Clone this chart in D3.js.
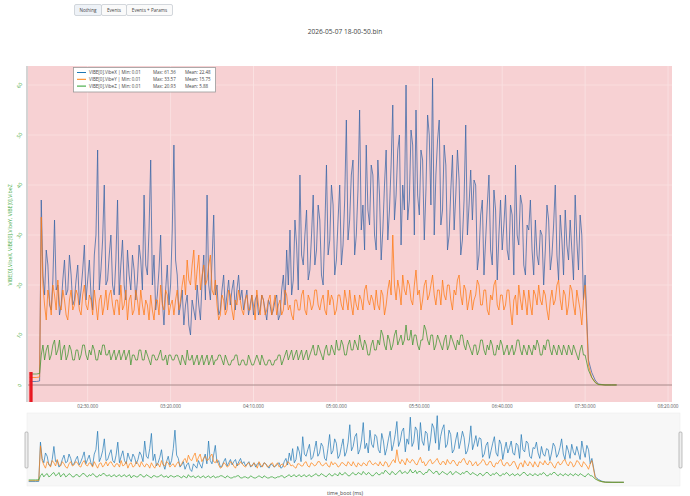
<!DOCTYPE html>
<html><head><meta charset="utf-8">
<script src="https://cdn.jsdelivr.net/npm/d3@7"></script>
<style>body{margin:0;background:#fff;} svg{display:block;font-family:"Open Sans",sans-serif;}</style>
</head><body><svg id="c" width="690" height="496"></svg>
<script>
const title = "2026-05-07 18-00-50.bin";
const buttons = ["Nothing", "Events", "Events + Params"];
const seriesNames = ["VIBE[0].VibeX", "VIBE[0].VibeY", "VIBE[0].VibeZ"];
const legendMin = ["0.01", "0.01", "0.01"];
const legendMax = ["61.36", "33.57", "20.93"];
const legendMean = ["22.48", "15.75", "5.88"];
const xTickValues = [150, 200, 250, 300, 350, 400, 450, 500];
const xTickLabels = ["02:30.000", "03:20.000", "04:10.000", "05:00.000", "05:50.000", "06:40.000", "07:30.000", "08:20.000"];
const yTickValues = [0, 10, 20, 30, 40, 50, 60];
const yTickLabels = ["0", "10", "20", "30", "40", "50", "60"];
const eventTimes = [115.3, 116.3];

// time_boot in seconds (1 s samples while flying)
const timeBoot = [115, 117, 119, 121, ...d3.range(122, 451, 1), 452, 454, 456, 458, 462, 466, 469];

const vibeX = [0.7, 0.7, 0.7, 0.8,
  37,22, 18,27, 24,16, 15,21, 33,19, 20,14, 16,21, 25,18, 19,26, 22,16,
  17,21, 24,16, 19,23, 28,17, 21,25, 18,15, 26,30, 47,19, 23,29, 40,20,
  21,26, 30,20, 18,25, 37,18, 24,29, 20,17, 27,22, 19,26, 23,17, 21,28,
  25,19, 38,24, 22,31, 45,20, 26,15, 18,23, 30,17, 12,19, 24,16, 20,31,
  48,25, 22,14, 16,19, 12,16, 18,12, 10,17, 15,13, 20,16, 13,21, 26,17,
  38,20, 17,25, 34,18, 20,14, 15,19, 22,15, 18,21, 16,19, 21,15, 19,22,
  17,19, 15,17, 19,14, 16,18, 14,17, 18,14, 15,18, 17,15, 13,17, 16,14,
  15,17, 18,13, 14,19, 22,16, 27,20, 31,18, 21,33, 28,19, 42,26, 24,30,
  35,21, 23,30, 38,24, 27,36, 33,22, 20,31, 44,26, 29,40, 36,22, 25,33,
  40,24, 28,37, 53,29, 33,42, 45,26, 30,39, 55,31, 36,27, 48,35, 32,44,
  42,30, 27,45, 38,25, 31,40, 47,29, 35,44, 56,33, 38,47, 50,28, 40,35,
  60,33, 37,51, 48,30, 55,38, 34,47, 45,29, 39,54, 50,36, 61.36,30, 42,49,
  53,32, 35,48, 44,27, 30,39, 46,31, 38,47, 41,26, 29,37, 52,30, 36,43,
  33,41, 40,23, 26,34, 37,22, 29,36, 42,27, 24,39, 35,21, 30,37, 27,32,
  38,27, 25,36, 34,22, 44,30, 28,38, 36,24, 22,32, 31,37, 27,22, 33,26,
  24,31, 30,20, 27,36, 33,23, 26,32, 40,26, 21,34, 29,22, 35,28, 25,33,
  27,21, 38,29, 23,34, 30,17, 22,
  5, 2.5, 1, 0.2, 0.01, 0.01, 0.01];

const vibeY = [1.5, 1.5, 1.5, 1.6,
  33.57,20, 16,13, 19,17, 14,20, 18,15, 21,16, 15,19, 17,14, 13,17, 19,15,
  16,19, 18,15, 14,18, 20,16, 15,18, 17,14, 19,16, 13,17, 18,14, 16,19,
  15,18, 19,16, 14,17, 17,14, 20,15, 16,19, 13,17, 18,14, 15,19, 17,14,
  19,16, 14,17, 16,13, 18,15, 13,17, 17,14, 20,16, 15,19, 18,14, 16,17,
  14,17, 19,15, 17,20, 22,18, 25,21, 20,24, 27,19, 23,26, 19,22, 24,20,
  21,24, 26,19, 18,21, 16,13, 14,18, 17,14, 15,19, 18,15, 13,17, 16,19,
  17,15, 14,17, 18,15, 15,18, 16,13, 19,16, 14,18, 17,14, 15,17, 18,14,
  16,18, 14,16, 17,14, 15,19, 18,15, 16,14, 13,17, 17,15, 15,18, 19,15,
  14,18, 17,15, 16,19, 19,16, 15,17, 18,15, 14,19, 16,18, 17,14, 15,18,
  18,16, 15,19, 17,15, 19,16, 14,18, 16,15, 18,17, 15,19, 20,17, 16,18,
  17,15, 19,16, 15,19, 18,14, 16,19, 21,18, 30,20, 17,21, 19,16, 22,19,
  18,21, 20,17, 16,20, 23,18, 19,15, 17,20, 21,17, 18,20, 22,18, 16,19,
  19,16, 21,18, 17,20, 20,17, 15,19, 18,21, 22,18, 16,20, 19,15, 17,19,
  15,17, 18,21, 20,16, 16,19, 19,15, 14,18, 17,20, 21,16, 15,18, 18,15,
  16,19, 19,15, 12,17, 18,14, 20,17, 15,19, 17,14, 19,16, 14,19, 18,16,
  20,17, 16,19, 18,15, 13,17, 19,16, 17,20, 21,17, 15,19, 18,14, 16,20,
  19,16, 14,19, 17,15, 12,17, 20,
  4, 1.5, 0.6, 0.1, 0.01, 0.01, 0.01];

const vibeZ = [2.2, 2.2, 2.2, 2.3,
  6,8, 5,7, 8,5, 6,8, 9,6, 7,9, 5,7, 8,5, 6,8, 7,5,
  5,7, 7,5, 6,8, 8,6, 5,7, 6,8, 7,5, 5,7, 6,8, 8,6,
  6,7, 5,6, 7,5, 6,7, 5,6, 7,5, 6,7, 4,6, 6,5, 5,7,
  7,5, 5,7, 6,5, 4,6, 6,5, 5,6, 7,5, 5,6, 4,6, 6,5,
  5,6, 6,5, 4,6, 5,4, 7,5, 5,6, 4,5, 6,4, 5,6, 4,5,
  6,4, 5,6, 4,5, 5,6, 6,5, 4,6, 5,4, 4,5, 5,6, 6,4,
  4,5, 5,4, 4,6, 5,4, 4,5, 6,5, 4,6, 5,4, 4,5, 5,4,
  4,5, 5,6, 6,4, 5,6, 7,5, 6,7, 5,6, 7,5, 6,7, 5,6,
  7,5, 6,7, 8,6, 6,8, 7,6, 5,7, 8,6, 6,8, 7,6, 9,7,
  7,9, 8,6, 6,8, 9,7, 7,9, 8,7, 10,8, 7,9, 8,6, 6,8,
  9,7, 7,9, 8,11, 10,8, 7,10, 9,7, 8,10, 11,8, 9,10, 8,9,
  12,9, 9,11, 8,10, 10,8, 7,9, 9,12, 11,9, 8,10, 10,7, 8,10,
  9,8, 7,9, 10,7, 8,10, 9,8, 7,9, 8,10, 10,8, 7,9, 8,7,
  6,8, 8,6, 7,9, 9,7, 6,8, 7,9, 8,6, 6,8, 7,9, 8,6,
  7,8, 6,7, 8,6, 7,9, 9,7, 6,8, 7,6, 8,7, 6,8, 7,9,
  8,6, 6,8, 7,9, 9,7, 6,8, 7,6, 8,7, 6,8, 7,6, 8,7,
  6,8, 7,6, 5,7, 8,6, 6,
  3, 1.5, 0.5, 0.1, 0.01, 0.01, 0.01];

const seriesValues = [vibeX, vibeY, vibeZ];
const mainColors = ["#3a66a6", "#ff7a12", "#3f9630"];
const sliderColors = ["#1f77b4", "#ff7f0e", "#2ca02c"];

const svg = d3.select("#c");
const M = {l: 28, r: 672, t: 66, b: 402};
const S = {l: 27, r: 680, t: 413, b: 486};
const xDomain = [114, 502.4], yDomain = [-3.4, 63.8];

const x = d3.scaleLinear().domain(xDomain).range([M.l, M.r]);
const y = d3.scaleLinear().domain(yDomain).range([M.b, M.t]);
const xs = d3.scaleLinear().domain(xDomain).range([S.l, S.r]);
const ys = d3.scaleLinear().domain(yDomain).range([S.b, S.t]);

// buttons
let bx = 74;
const bw = [27, 25, 46];
buttons.forEach((b, i) => {
  const g = svg.append("g");
  g.append("rect").attr("x", bx + 0.5).attr("y", 4.5).attr("width", bw[i]).attr("height", 11)
    .attr("rx", 1.5).attr("fill", i === 0 ? "#eef2f7" : "#fafafa").attr("stroke", "#c8cdd3").attr("stroke-width", 0.8);
  g.append("text").attr("x", bx + 0.5 + bw[i] / 2).attr("y", 11.8).attr("text-anchor", "middle")
    .attr("font-size", 4.6).attr("fill", "#444").text(b);
  bx += bw[i];
});

// title
svg.append("text").attr("x", 345).attr("y", 34).attr("text-anchor", "middle")
  .attr("font-size", 6.6).attr("fill", "#444").text(title);

// plot background
svg.append("rect").attr("x", M.l).attr("y", M.t).attr("width", M.r - M.l).attr("height", M.b - M.t).attr("fill", "#f7d1d3");

const defs = svg.append("defs");
defs.append("clipPath").attr("id", "clipM").append("rect")
  .attr("x", M.l).attr("y", M.t).attr("width", M.r - M.l).attr("height", M.b - M.t);
defs.append("clipPath").attr("id", "clipS").append("rect")
  .attr("x", S.l).attr("y", S.t).attr("width", S.r - S.l).attr("height", S.b - S.t);

// grid
const gridG = svg.append("g");
gridG.selectAll("line.vx").data(xTickValues).join("line")
  .attr("x1", d => x(d)).attr("x2", d => x(d)).attr("y1", M.t).attr("y2", M.b)
  .attr("stroke", "#fbe6e7").attr("stroke-width", 0.7);
gridG.selectAll("line.hy").data(yTickValues.filter(v => v !== 0)).join("line")
  .attr("x1", M.l).attr("x2", M.r).attr("y1", d => y(d)).attr("y2", d => y(d))
  .attr("stroke", "#fbe2e3").attr("stroke-width", 0.7);

// zero line
svg.append("line").attr("x1", M.l).attr("x2", M.r).attr("y1", y(0)).attr("y2", y(0))
  .attr("stroke", "#a88a8a").attr("stroke-width", 1);

// left axis line
svg.append("line").attr("x1", M.l - 1).attr("x2", M.l - 1).attr("y1", M.t).attr("y2", M.b)
  .attr("stroke", "#a9a9a9").attr("stroke-width", 1);

// lines
const plotG = svg.append("g").attr("clip-path", "url(#clipM)");
seriesValues.forEach((vals, k) => {
  const line = d3.line().x((d, i) => x(timeBoot[i])).y(d => y(d));
  plotG.append("path").datum(vals).attr("d", line).attr("fill", "none")
    .attr("stroke", mainColors[k]).attr("stroke-width", 0.75).attr("stroke-linejoin", "round");
});

// events
plotG.selectAll("line.ev").data(eventTimes).join("line")
  .attr("x1", d => x(d)).attr("x2", d => x(d)).attr("y1", y(2.6)).attr("y2", y(-3.4))
  .attr("stroke", "#e8141e").attr("stroke-width", 1.6);

// y ticks
svg.append("g").selectAll("text").data(yTickValues).join("text")
  .attr("transform", d => `translate(21,${y(d) + 1.5}) rotate(-55)`)
  .attr("text-anchor", "middle").attr("font-size", 5).attr("fill", "#44aa44")
  .text((d, i) => yTickLabels[i]);

// x ticks
svg.append("g").selectAll("text").data(xTickValues).join("text")
  .attr("x", d => x(d)).attr("y", 408).attr("text-anchor", "middle")
  .attr("font-size", 4.6).attr("fill", "#555").text((d, i) => xTickLabels[i]);

// y title
svg.append("text").attr("transform", `translate(12,235) rotate(-90)`).attr("text-anchor", "middle")
  .attr("font-size", 5.2).attr("fill", "#44aa44").text(seriesNames.join(", "));

// legend
const lg = svg.append("g");
lg.append("rect").attr("x", 73.5).attr("y", 67.5).attr("width", 142).attr("height", 24.5)
  .attr("fill", "#fff").attr("stroke", "#9a9a9a").attr("stroke-width", 0.8);
seriesNames.forEach((n, i) => {
  const yy = 72.5 + i * 6.8;
  lg.append("line").attr("x1", 77).attr("x2", 86).attr("y1", yy).attr("y2", yy)
    .attr("stroke", sliderColors[i]).attr("stroke-width", 1);
  lg.append("text").attr("x", 89).attr("y", yy + 1.6).attr("font-size", 4.5).attr("fill", "#444")
    .text(`${n} | Min: ${legendMin[i]}`);
  lg.append("text").attr("x", 153).attr("y", yy + 1.6).attr("font-size", 4.5).attr("fill", "#444")
    .text(`Max: ${legendMax[i]}`);
  lg.append("text").attr("x", 185).attr("y", yy + 1.6).attr("font-size", 4.5).attr("fill", "#444")
    .text(`Mean: ${legendMean[i]}`);
});

// range slider
svg.append("rect").attr("x", S.l).attr("y", S.t).attr("width", S.r - S.l).attr("height", S.b - S.t)
  .attr("fill", "#f7f7f7").attr("stroke", "#eeeeee").attr("stroke-width", 0.6);
const slG = svg.append("g").attr("clip-path", "url(#clipS)");
seriesValues.forEach((vals, k) => {
  const line = d3.line().x((d, i) => xs(timeBoot[i])).y(d => ys(d));
  slG.append("path").datum(vals).attr("d", line).attr("fill", "none")
    .attr("stroke", sliderColors[k]).attr("stroke-width", 0.7);
});
[S.l - 2, S.r - 1].forEach(hx => {
  svg.append("rect").attr("x", hx).attr("y", 432).attr("width", 3).attr("height", 36).attr("rx", 1)
    .attr("fill", "#eee").attr("stroke", "#999").attr("stroke-width", 0.6);
});

// x title
svg.append("text").attr("x", 345).attr("y", 495).attr("text-anchor", "middle")
  .attr("font-size", 5.2).attr("fill", "#444").text("time_boot (ms)");
</script></body></html>
